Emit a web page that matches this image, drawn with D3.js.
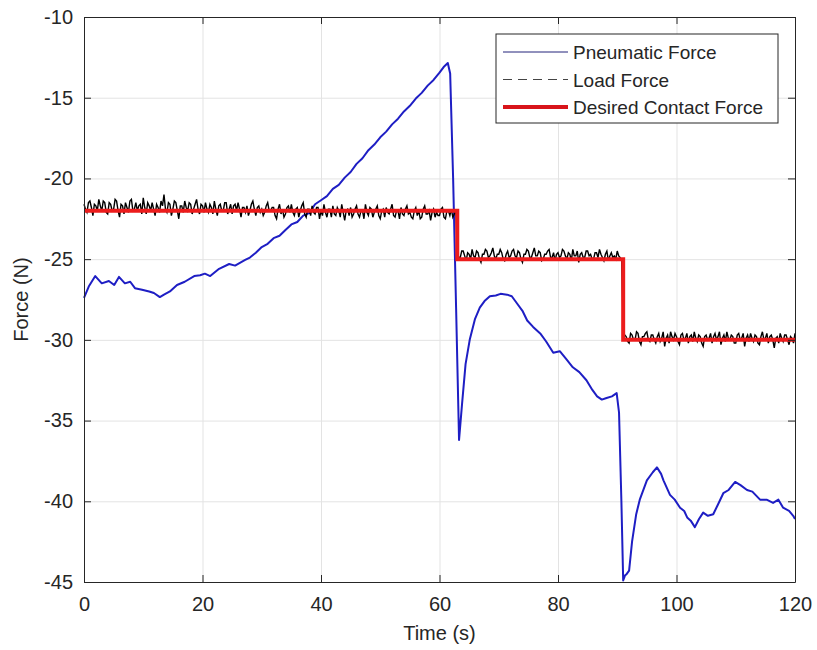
<!DOCTYPE html>
<html>
<head>
<meta charset="utf-8">
<script src="https://cdn.jsdelivr.net/npm/d3@7"></script>
<style>
	body { margin: 0; background: #fff; }
	text { font-family: "Liberation Sans", Arial, sans-serif; fill: #262626; }
</style>
</head>
<body>
<script>
// pneumatic force (s, N)
var pneumaticTime = [0, 0.8, 1.9, 3, 4.2, 5.1, 5.9, 6.9, 7.8, 8.6, 9.8, 11, 11.8, 12.8, 13.5, 14.5, 15.7, 17, 18.6, 19.6, 20.4, 21.3, 22.8, 24.5, 25.5, 27.2,
	28, 29, 30, 31, 32, 33, 34, 35, 36, 37, 38, 39, 40, 41, 42, 43, 44, 45, 46, 47, 48, 49, 50, 51, 52, 53, 54, 55, 56, 57, 58, 59, 60, 60.7, 61.4,
	61.8, 62.3, 62.8, 63.3, 63.8, 64.4, 65.1, 66, 66.8, 67.6, 68.5, 69.5, 70.3, 71.4, 72.2, 73, 74, 74.8, 75.8, 77, 78, 79.2, 80.3, 81.4, 82.5, 83.6, 84.8, 85.8, 86.6, 87.4, 88.2, 89.1, 89.9,
	90.3, 90.7, 91, 91.3, 91.6, 92, 92.5, 93.2, 93.8, 95, 96, 96.7, 97.4, 97.8, 98.9, 99.7, 100.6, 101.3, 101.8, 102.4, 103.1, 103.8, 104.5, 105.3, 106.2, 107, 107.9, 108.8, 109.9, 110.8, 111.9, 112.8, 114.1, 115.2, 116.3, 117.2, 118, 119, 119.7, 120];
var pneumaticForce = [-27.4, -26.7, -26.05, -26.5, -26.35, -26.6, -26.1, -26.5, -26.4, -26.8, -26.9, -27.0, -27.1, -27.35, -27.2, -27.0, -26.6, -26.4, -26.05, -26.0, -25.9, -26.05, -25.6, -25.3, -25.4, -25.05,
	-24.9, -24.6, -24.25, -24.05, -23.7, -23.55, -23.2, -22.85, -22.7, -22.3, -22.15, -21.6, -21.35, -21.1, -20.65, -20.4, -19.95, -19.6, -19.1, -18.75, -18.25, -17.9, -17.45, -17.1, -16.65, -16.3, -15.85, -15.5, -15.05, -14.7, -14.25, -13.9, -13.45, -13.1, -12.85,
	-13.5, -20, -28, -36.2, -34, -31.5, -30, -28.7, -28, -27.6, -27.3, -27.25, -27.15, -27.2, -27.3, -27.7, -28.2, -28.8, -29.2, -29.6, -30.1, -30.8, -30.7, -31.2, -31.7, -32.0, -32.5, -33.1, -33.5, -33.7, -33.6, -33.5, -33.3,
	-34.5, -40, -44.9, -44.6, -44.5, -44.3, -42.5, -40.8, -39.9, -38.7, -38.2, -37.9, -38.3, -38.7, -39.6, -39.9, -40.4, -40.6, -41, -41.2, -41.6, -41.1, -40.7, -40.9, -40.8, -40.2, -39.5, -39.3, -38.8, -39.0, -39.3, -39.4, -39.9, -39.9, -40.1, -39.9, -40.4, -40.6, -40.9, -41.1];

// load force, one sample every 0.25 s from t = 0
var loadStep = 0.25;
var loadForce = [
	-21.6, -21.9, -22.1, -21.5, -21.4, -21.8, -22.3, -21.6, -21.7, -22.0, -21.3, -21.7, -22.0, -21.4, -21.5, -22.1, -22.2, -21.5, -21.6, -22.0,
	-21.9, -21.3, -21.4, -22.0, -22.4, -21.6, -21.7, -22.2, -21.5, -21.8, -22.1, -21.4, -21.3, -22.0, -21.9, -21.5, -22.0, -21.7, -21.6, -22.2,
	-21.2, -21.8, -22.2, -21.5, -21.7, -22.0, -21.5, -21.9, -22.3, -21.6, -21.8, -22.1, -21.4, -21.7, -21.0, -21.9, -22.1, -21.5, -21.6, -22.3,
	-21.9, -21.4, -21.5, -22.0, -22.5, -21.7, -21.7, -22.1, -21.4, -21.8, -22.0, -21.5, -21.6, -22.2, -21.9, -21.6, -21.3, -21.9, -22.2, -21.6,
	-21.7, -22.1, -21.5, -21.9, -22.1, -21.6, -21.8, -22.2, -21.4, -21.9, -22.3, -21.7, -21.6, -22.0, -22.0, -21.5, -21.5, -22.2, -21.9, -21.6,
	-22.2, -21.7, -21.6, -22.0, -21.5, -21.9, -22.4, -21.8, -21.8, -22.1, -21.7, -22.3, -22.0, -21.6, -21.4, -21.9, -22.3, -21.8, -21.7, -22.1,
	-21.9, -22.3, -22.1, -21.7, -21.5, -22.0, -22.0, -21.8, -21.8, -22.3, -22.5, -21.9, -21.6, -22.2, -21.9, -22.4, -22.2, -21.8, -21.7, -22.1,
	-21.6, -22.1, -22.3, -21.9, -21.8, -22.4, -22.0, -21.7, -21.5, -22.2, -22.4, -21.9, -21.9, -22.3, -21.7, -22.1, -22.2, -21.8, -21.8, -22.5,
	-22.0, -22.3, -21.6, -22.1, -22.4, -21.9, -21.9, -22.4, -21.7, -22.2, -22.3, -21.8, -22.0, -22.4, -21.6, -22.1, -22.6, -22.0, -21.9, -22.3,
	-21.8, -22.4, -22.2, -21.9, -21.7, -22.2, -22.4, -22.0, -22.0, -22.5, -21.6, -22.1, -22.3, -21.8, -21.9, -22.4, -22.1, -21.9, -21.7, -22.3,
	-22.5, -22.0, -21.9, -22.4, -21.8, -22.1, -22.2, -21.9, -21.6, -22.3, -22.4, -22.0, -22.0, -22.5, -21.8, -22.2, -22.3, -21.9, -21.7, -22.2,
	-22.1, -22.4, -22.5, -22.0, -21.8, -22.3, -22.0, -22.5, -22.4, -21.9, -21.7, -22.2, -22.2, -22.0, -22.6, -22.1, -21.9, -22.4, -22.1, -22.3,
	-22.3, -21.9, -21.8, -22.4, -22.5, -22.0, -22.0, -22.3, -21.9, -22.4, -22.2, -21.9,
	-24.6, -24.9, -24.9, -24.5, -24.5, -24.8, -25.1, -24.6, -24.7, -25.0, -24.4, -24.8, -24.9, -24.5, -24.6, -25.0, -25.2, -24.7, -24.7, -24.4,
	-24.5, -24.9, -24.8, -24.6, -24.3, -24.8, -25.0, -24.7, -24.7, -24.4, -24.6, -25.0, -25.1, -24.7, -24.5, -24.9, -24.8, -24.5, -24.4, -24.8,
	-24.9, -24.5, -24.6, -25.0, -25.2, -24.7, -24.7, -24.4, -24.5, -24.9, -24.9, -24.6, -24.3, -24.8, -24.8, -24.5, -24.6, -25.1, -25.0, -24.7,
	-24.7, -24.5, -24.4, -24.9, -24.9, -24.6, -25.1, -24.7, -24.6, -24.9, -24.8, -24.4, -24.5, -24.8, -25.0, -24.6, -24.7, -25.1, -24.4, -24.8,
	-24.8, -24.5, -25.2, -24.7, -24.6, -24.9, -24.9, -24.5, -24.5, -24.8, -24.7, -25.0, -25.0, -24.6, -24.6, -24.9, -24.4, -24.7, -24.9, -25.1,
	-24.7, -24.5, -25.1, -24.8, -24.6, -24.9, -24.8, -25.0, -24.5, -24.8, -24.9, -25.1,
	-29.4, -29.7, -29.8, -30.1, -30.2, -29.6, -29.7, -30.0, -30.0, -29.5, -29.6, -30.1, -30.3, -29.8, -29.8, -29.6, -29.5, -30.0, -30.1, -29.7,
	-29.7, -30.0, -30.2, -29.8, -29.6, -30.1, -29.9, -29.5, -30.4, -29.9, -29.7, -30.2, -29.5, -29.8, -30.0, -29.6, -29.8, -30.1, -30.3, -29.7,
	-29.6, -30.0, -29.9, -29.6, -30.2, -29.8, -29.7, -30.1, -29.5, -29.9, -30.1, -29.7, -29.8, -30.2, -30.4, -29.8, -29.7, -30.0, -29.9, -29.6,
	-30.2, -29.8, -29.6, -30.0, -29.8, -29.5, -30.3, -29.9, -29.7, -30.1, -29.5, -29.9, -30.0, -29.7, -29.8, -30.2, -30.2, -29.7, -29.6, -30.0,
	-29.9, -29.6, -30.4, -29.9, -29.7, -30.1, -29.6, -29.9, -30.1, -29.7, -29.8, -30.2, -30.3, -29.8, -29.5, -30.0, -29.9, -29.6, -30.2, -29.8,
	-29.7, -30.0, -30.5, -29.9, -29.8, -30.2, -29.6, -29.9, -30.1, -29.7, -29.7, -30.0, -30.3, -29.8, -29.9, -30.2, -29.6
];

// desired contact force, piecewise constant
var desiredTime = [0, 63, 91, 120];
var desiredForce = [-22, -25, -30, -30];

var xTicks = [0, 20, 40, 60, 80, 100, 120];
var yTicks = [-45, -40, -35, -30, -25, -20, -15, -10];
var seriesNames = ['Pneumatic Force', 'Load Force', 'Desired Contact Force'];

var w = 817;
var h = 650;
var plotLeft = 84, plotRight = 795, plotTop = 17, plotBottom = 582;
var tickLen = 7;
var axisColor = '#262626';

var svg = d3.select('body')
	.append('svg')
	.attr('width', w)
	.attr('height', h);

var x = d3.scaleLinear().domain([0, 120]).range([plotLeft, plotRight]);
var y = d3.scaleLinear().domain([-45, -10]).range([plotBottom, plotTop]);

// matlab prints a plain hyphen, not d3's unicode minus
var plainFormat = function(d) { return String(d); };

// grid
svg.append('g')
	.attr('transform', 'translate(0,' + plotBottom + ')')
	.call(d3.axisBottom(x).tickValues(xTicks).tickSize(-(plotBottom - plotTop)).tickFormat(''))
	.call(function(g) {
		g.select('.domain').remove();
		g.selectAll('line').attr('stroke', '#e3e3e3').attr('stroke-width', 1);
	});
svg.append('g')
	.attr('transform', 'translate(' + plotLeft + ',0)')
	.call(d3.axisLeft(y).tickValues(yTicks).tickSize(-(plotRight - plotLeft)).tickFormat(''))
	.call(function(g) {
		g.select('.domain').remove();
		g.selectAll('line').attr('stroke', '#e3e3e3').attr('stroke-width', 1);
	});

// data lines
var plot = svg.append('g');

var pneumaticLine = d3.line()
	.x(function(d, i) { return x(pneumaticTime[i]); })
	.y(function(d) { return y(d); });
plot.append('path')
	.attr('d', pneumaticLine(pneumaticForce))
	.attr('fill', 'none')
	.attr('stroke', '#1e1ec4')
	.attr('stroke-width', 2)
	.attr('stroke-linejoin', 'round');

var loadLine = d3.line()
	.x(function(d, i) { return x(i * loadStep); })
	.y(function(d) { return y(d); });
plot.append('path')
	.attr('d', loadLine(loadForce))
	.attr('fill', 'none')
	.attr('stroke', '#000')
	.attr('stroke-width', 1.4);

var desiredLine = d3.line()
	.curve(d3.curveStepAfter)
	.x(function(d, i) { return x(desiredTime[i]); })
	.y(function(d) { return y(d); });
plot.append('path')
	.attr('d', desiredLine(desiredForce))
	.attr('fill', 'none')
	.attr('stroke', '#ec1c1c')
	.attr('stroke-width', 4);

// box + inward ticks on all four sides
function styleAxis(g) {
	g.select('.domain').attr('stroke', axisColor).attr('stroke-width', 1);
	g.selectAll('line').attr('stroke', axisColor).attr('stroke-width', 1);
	g.selectAll('text').attr('fill', axisColor).attr('font-family', null).style('font-size', '20px');
}

svg.append('g')
	.attr('transform', 'translate(0,' + plotBottom + ')')
	.call(d3.axisBottom(x).tickValues(xTicks).tickFormat(plainFormat).tickSizeInner(-tickLen).tickSizeOuter(0).tickPadding(15))
	.call(styleAxis);
svg.append('g')
	.attr('transform', 'translate(0,' + plotTop + ')')
	.call(d3.axisTop(x).tickValues(xTicks).tickSizeInner(-tickLen).tickSizeOuter(0).tickFormat(''))
	.call(styleAxis);
svg.append('g')
	.attr('transform', 'translate(' + plotLeft + ',0)')
	.call(d3.axisLeft(y).tickValues(yTicks).tickFormat(plainFormat).tickSizeInner(-tickLen).tickSizeOuter(0).tickPadding(11))
	.call(styleAxis);
svg.append('g')
	.attr('transform', 'translate(' + plotRight + ',0)')
	.call(d3.axisRight(y).tickValues(yTicks).tickSizeInner(-tickLen).tickSizeOuter(0).tickFormat(''))
	.call(styleAxis);

// axis titles
svg.append('text')
	.attr('x', (plotLeft + plotRight) / 2)
	.attr('y', 640)
	.attr('text-anchor', 'middle')
	.style('font-size', '20px')
	.text('Time (s)');
svg.append('text')
	.attr('transform', 'translate(28,' + (plotTop + plotBottom) / 2 + ') rotate(-90)')
	.attr('text-anchor', 'middle')
	.style('font-size', '20px')
	.text('Force (N)');

// legend
var legend = svg.append('g');
legend.append('rect')
	.attr('x', 496)
	.attr('y', 34)
	.attr('width', 282)
	.attr('height', 89)
	.attr('fill', '#fff')
	.attr('stroke', axisColor)
	.attr('stroke-width', 1);

var legendStyles = [
	{ color: '#22227a', width: 1, dash: null },
	{ color: '#444', width: 1, dash: '9,6' },
	{ color: '#d8141a', width: 4, dash: null }
];
var rowY = d3.scalePoint().domain(seriesNames).range([52, 107]);

seriesNames.forEach(function(name, i) {
	var s = legendStyles[i];
	legend.append('line')
		.attr('x1', 503)
		.attr('x2', 568)
		.attr('y1', rowY(name))
		.attr('y2', rowY(name))
		.attr('stroke', s.color)
		.attr('stroke-width', s.width)
		.attr('stroke-dasharray', s.dash);
	legend.append('text')
		.attr('x', 573)
		.attr('y', rowY(name) + 7)
		.style('font-size', '19px')
		.text(name);
});
</script>
</body>
</html>
